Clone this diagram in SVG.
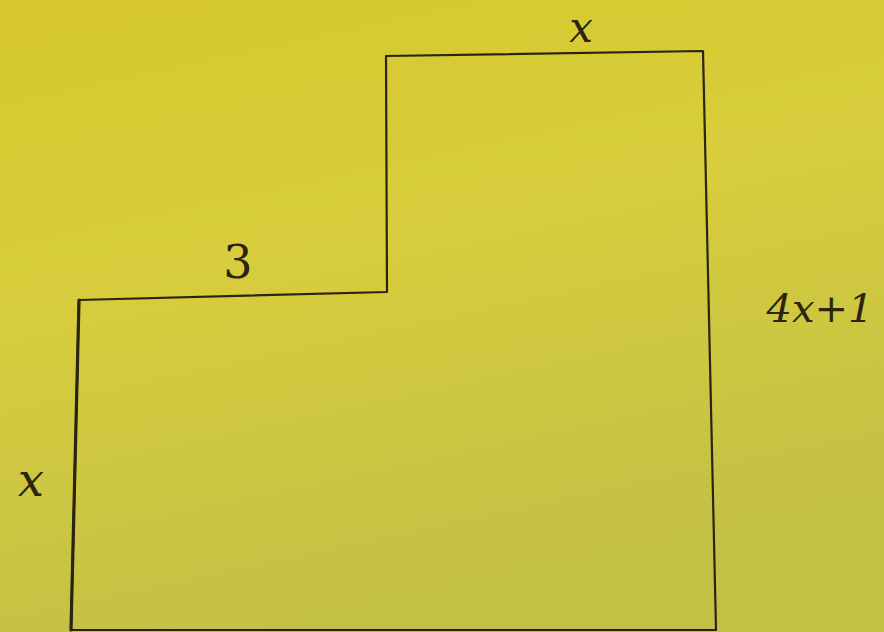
<svg xmlns="http://www.w3.org/2000/svg" width="884" height="632" viewBox="0 0 884 632">
<defs>
<linearGradient id="paper" x1="0" y1="0" x2="0.3" y2="1">
<stop offset="0" stop-color="#d6c82c"/>
<stop offset="0.45" stop-color="#d8cd3c"/>
<stop offset="1" stop-color="#c3c046"/>
</linearGradient>
<style>
.edge{fill:none;stroke:#2a2410;stroke-width:2.2;stroke-linecap:round;stroke-linejoin:round}
.lbl{font-family:"DejaVu Serif","Liberation Serif",serif;fill:#2a2410}
.var{font-style:italic}
</style>
</defs>
<rect x="0" y="0" width="884" height="632" fill="url(#paper)"/>
<g id="shape">
<path class="edge" d="M71,630 L79,300 L387,292 L386,56 L703,51 L716,630 Z"/>
<path class="edge" d="M71,630 L79,300" style="stroke-width:3.2"/>
</g>
<g id="labels">
<text class="lbl var" x="581" y="42" font-size="42" text-anchor="middle">x</text>
<text class="lbl" x="238" y="278" font-size="46" text-anchor="middle">3</text>
<text class="lbl var" x="820" y="322" font-size="40" text-anchor="middle">4x+1</text>
<text class="lbl var" x="31" y="496" font-size="46" text-anchor="middle">x</text>
</g>
</svg>
